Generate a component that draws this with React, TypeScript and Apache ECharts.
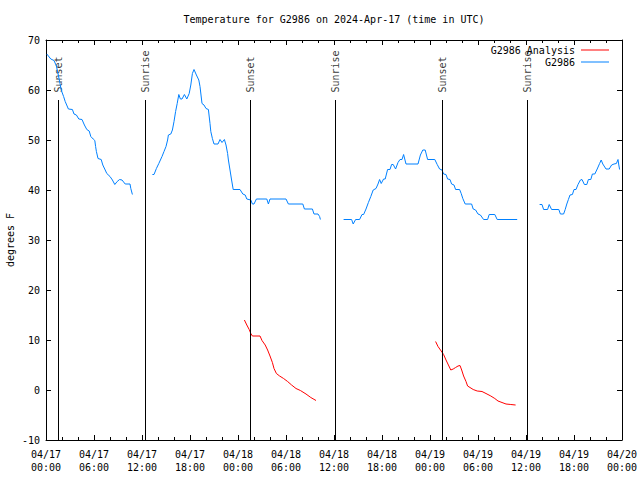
import React, { useEffect, useRef } from "react";
import * as echarts from "echarts";

// Hours since 2024-04-17 00:00 UTC
const sunsetHours = [1.55, 25.5, 49.5];
const sunriseHours = [12.35, 36.1, 60.1];

const obsSeg1 = [
  [0.1, 67.2], [0.6, 66.2], [1.0, 65.9], [1.3, 64.8], [1.5, 63.3], [1.75, 61.3], [1.9, 60], [2.2, 58.7],
  [2.4, 57.7], [2.8, 56.2], [3.3, 56.1], [3.5, 55.2], [3.8, 55], [4.1, 54.2], [4.5, 54.1], [4.8, 53],
  [5.1, 52.1], [5.4, 51.8], [5.6, 50.7], [5.9, 50.2], [6.1, 49.9], [6.2, 48.7], [6.3, 47.7], [6.5, 46.3],
  [6.9, 46.1], [7.1, 45], [7.4, 44], [7.6, 43.3], [8.0, 42.7], [8.3, 42], [8.6, 41.1], [8.9, 41.7],
  [9.2, 42.1], [9.5, 42], [9.9, 41.2], [10.5, 41.2], [10.6, 40.3], [10.8, 39.1],
];
const obsSeg2 = [
  [13.3, 43.1], [13.5, 43.1], [13.8, 44.3], [14.1, 45.3], [14.5, 46.7], [14.75, 47.7], [15, 48.7], [15.2, 50],
  [15.3, 51], [15.6, 51.2], [15.8, 52], [16, 53.7], [16.2, 55.7], [16.4, 57.3], [16.6, 59.1], [16.8, 58.2],
  [17, 58.2], [17.3, 59.1], [17.6, 58.2], [17.9, 59.3], [18.1, 61], [18.3, 63.3], [18.5, 64.1], [18.8, 63],
  [19.1, 62], [19.25, 60.7], [19.5, 57.3], [19.75, 57], [20, 56.3], [20.3, 56.1], [20.5, 53.3], [20.6, 51.7],
  [20.8, 50.3], [21, 49.2], [21.5, 49.2], [21.75, 50.1], [22, 49.5], [22.3, 50.1], [22.5, 49], [22.7, 47.3],
  [22.8, 46], [23, 44], [23.2, 42], [23.4, 40.1], [24.25, 40.1], [24.6, 39.2], [24.9, 39], [25.1, 38.2],
  [25.6, 38], [25.8, 37.2], [26, 37.2], [26.3, 38.2], [27.6, 38.2], [27.8, 37.2], [28, 38.2], [30, 38.2],
  [30.3, 37.2], [32.1, 37.2], [32.3, 36.2], [33.3, 36.2], [33.5, 35.2], [34, 35.2], [34.2, 34.7], [34.3, 34.1],
];
const obsSeg3 = [
  [37.2, 34.1], [38.2, 34.1], [38.4, 33.2], [38.7, 34.1], [39.2, 34.1], [39.5, 35.1], [39.7, 35.1], [40, 36.2],
  [40.3, 37.5], [40.6, 38.7], [40.9, 40], [41.25, 40.3], [41.5, 41.2], [41.7, 42.1], [41.9, 41.3], [42.2, 42.2],
  [42.4, 42.2], [42.7, 44.1], [43, 44.1], [43.2, 45.1], [43.4, 45.1], [43.7, 44.2], [44, 45.5], [44.25, 46.1],
  [44.5, 46.1], [44.7, 47.1], [45, 45.2], [46.5, 45.2], [46.8, 47], [47.1, 48], [47.4, 48], [47.7, 46.1],
  [48.6, 46.1], [48.9, 45.1], [49.2, 44.2], [49.5, 44], [49.7, 43.2], [50, 43.1], [50.2, 42.2], [50.5, 42.1],
  [50.7, 41.2], [51, 41], [51.2, 40.1], [51.7, 40.1], [51.9, 39.3], [52.1, 38.3], [52.4, 37.2], [53.2, 37.2],
  [53.4, 36.2], [53.7, 36], [54, 35.2], [54.3, 35], [54.7, 34.1], [55.2, 34.1], [55.4, 35.1], [56.1, 35.1],
  [56.4, 34.1], [58.9, 34.1],
];
const obsSeg4 = [
  [61.7, 37.1], [62, 37.1], [62.2, 36.1], [62.7, 36.1], [62.9, 37.1], [63.2, 36.1], [64.1, 36.1], [64.3, 35.2],
  [64.7, 35.2], [64.9, 36.1], [65.1, 37.2], [65.3, 38.1], [65.5, 39], [65.8, 39.1], [66, 40.1], [66.25, 40.1],
  [66.5, 41.1], [66.8, 42], [67, 42.1], [67.3, 41.1], [67.6, 41.1], [67.8, 42.1], [68.1, 42.1], [68.3, 43.2],
  [68.6, 43.2], [68.9, 44.2], [69.2, 45.3], [69.4, 46], [69.6, 45.2], [70, 44.2], [70.4, 44.2], [70.7, 45],
  [71, 45.2], [71.3, 45.3], [71.5, 46.1], [71.6, 45], [71.7, 44.1],
];
const analysisSeg1 = [
  [24.8, 14], [25.1, 13], [25.4, 12.1], [25.6, 11.3], [25.8, 10.8], [26.75, 10.8], [27, 9.9], [27.4, 9],
  [27.7, 8], [28, 6.8], [28.3, 5.5], [28.5, 4.3], [28.8, 3.3], [29.2, 2.8], [29.7, 2.3], [30.2, 1.7],
  [30.7, 1], [31.25, 0.3], [31.8, -0.1], [32.5, -0.8], [33.1, -1.5], [33.75, -2.1],
];
const analysisSeg2 = [
  [48.7, 9.7], [49, 8.7], [49.4, 7.8], [49.7, 7.1], [50, 6], [50.3, 5], [50.6, 4], [50.9, 4.2],
  [51.2, 4.5], [51.5, 4.8], [51.75, 4.9], [51.96, 4], [52.2, 2.8], [52.5, 1.7], [52.7, 0.8], [53, 0.5],
  [53.4, 0.1], [53.9, -0.2], [54.5, -0.3], [55, -0.7], [55.6, -1.2], [56.1, -1.7], [56.5, -2.2], [57, -2.5],
  [57.5, -2.8], [58.1, -2.9], [58.7, -3],
];

const yMin = -10;
const yMax = 70;
const sunLineTop = 58;

const FONT = "DejaVu Sans Mono";

function joinSegments(segs: number[][][]) {
  const out: any[] = [];
  segs.forEach((s, i) => {
    if (i > 0) {
      const prev = segs[i - 1];
      out.push([(prev[prev.length - 1][0] + s[0][0]) / 2, null]);
    }
    s.forEach((p) => out.push(p));
  });
  return out;
}

function fmtX(v: number) {
  const day = 17 + Math.floor(v / 24);
  const hr = Math.round(v % 24);
  return `04/${day}\n${String(hr).padStart(2, "0")}:00`;
}

export default function App() {
  const ref = useRef<HTMLDivElement>(null);
  useEffect(() => {
    if (!ref.current) return;
    const chart = echarts.init(ref.current, null, { renderer: "svg" });
    const axisCommon = {
      type: "value" as const,
      axisLine: { show: true, onZero: false, lineStyle: { color: "#000", width: 1 } },
      axisTick: { show: true, inside: true, length: 5, lineStyle: { color: "#000" } },
      splitLine: { show: false },
    };
    const sunEvents = [
      ...sunsetHours.map((t) => ({ value: [t, sunLineTop], name: "Sunset" })),
      ...sunriseHours.map((t) => ({ value: [t, sunLineTop], name: "Sunrise" })),
    ];
    chart.setOption({
      animation: false,
      backgroundColor: "#fff",
      graphic: [
        {
          type: "text",
          x: 334,
          y: 19,
          style: {
            text: "Temperature for G2986 on 2024-Apr-17 (time in UTC)",
            textAlign: "center",
            textVerticalAlign: "middle",
            font: `10px "${FONT}"`,
            fill: "#000",
          },
        },
      ],
      legend: {
        data: ["G2986 Analysis", "G2986"],
        orient: "vertical",
        right: 26,
        top: 39,
        align: "right",
        icon: "rect",
        itemWidth: 28,
        itemHeight: 1,
        itemGap: 0,
        selectedMode: false,
        textStyle: { fontFamily: FONT, fontSize: 10, color: "#000", padding: [0, 1, 0, 0], lineHeight: 12 },
      },
      grid: { left: 46, right: 18, top: 40, bottom: 40, outerBoundsMode: "none", containLabel: false },
      xAxis: [
        {
          ...axisCommon,
          position: "bottom",
          min: 0,
          max: 72,
          interval: 6,
          minorTick: { show: true, splitNumber: 3, length: 3, lineStyle: { color: "#000" } },
          axisLabel: {
            formatter: fmtX,
            fontFamily: FONT,
            fontSize: 10,
            lineHeight: 13,
            margin: 8,
            color: "#000",
          },
        },
        {
          ...axisCommon,
          position: "top",
          min: 0,
          max: 72,
          interval: 6,
          minorTick: { show: true, splitNumber: 3, length: 3, lineStyle: { color: "#000" } },
          axisLabel: { show: false },
        },
      ],
      yAxis: [
        {
          ...axisCommon,
          position: "left",
          min: yMin,
          max: yMax,
          interval: 10,
          name: "degrees F",
          nameLocation: "middle",
          nameGap: 31,
          nameMoveOverlap: false,
          nameTextStyle: { fontFamily: FONT, fontSize: 10, color: "#000" },
          axisLabel: { fontFamily: FONT, fontSize: 10, margin: 6, color: "#000" },
        },
        {
          ...axisCommon,
          position: "right",
          min: yMin,
          max: yMax,
          interval: 10,
          axisLabel: { show: false },
        },
      ],
      series: [
        {
          name: "G2986 Analysis",
          type: "line",
          data: joinSegments([analysisSeg1, analysisSeg2]),
          symbol: "none",
          connectNulls: false,
          lineStyle: { color: "#ff0000", width: 1 },
          itemStyle: { color: "#ff0000" },
          silent: true,
          z: 3,
        },
        {
          name: "G2986",
          type: "line",
          data: joinSegments([obsSeg1, obsSeg2, obsSeg3, obsSeg4]),
          symbol: "none",
          connectNulls: false,
          lineStyle: { color: "#0080ff", width: 1 },
          itemStyle: { color: "#0080ff" },
          silent: true,
          z: 3,
        },
        {
          name: "sun",
          type: "scatter",
          data: sunEvents,
          symbolSize: 1,
          itemStyle: { color: "transparent" },
          silent: true,
          z: 2,
          label: {
            show: true,
            formatter: "{b}",
            rotate: 90,
            position: [1, -7],
            align: "left",
            verticalAlign: "middle",
            fontFamily: FONT,
            fontSize: 10,
            color: "#000",
          },
          markLine: {
            silent: true,
            symbol: ["none", "none"],
            label: { show: false },
            lineStyle: { color: "#000", width: 1, type: "solid" },
            emphasis: { disabled: true },
            data: [...sunsetHours, ...sunriseHours].map((t) => [
              { coord: [t, sunLineTop] },
              { coord: [t, yMin] },
            ]),
          },
        },
      ],
    });
    return () => chart.dispose();
  }, []);
  return (
    <div
      ref={ref}
      style={{ position: "absolute", left: 0, top: 0, width: 640, height: 480, background: "#fff" }}
    />
  );
}
